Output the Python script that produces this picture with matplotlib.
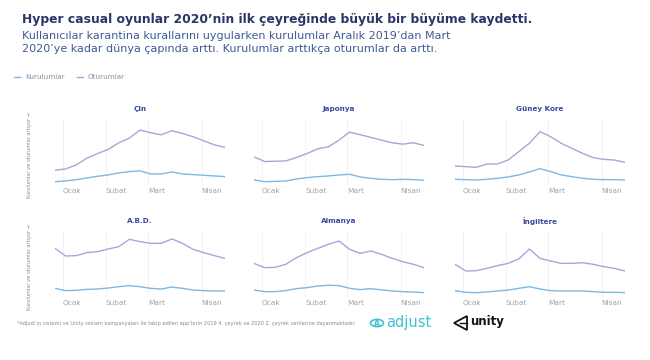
import matplotlib
matplotlib.use("Agg")
import matplotlib.pyplot as plt
from matplotlib.lines import Line2D
from matplotlib.patches import Circle, Polygon

# ---- data (relative index, 0 = bottom of panel, 100 = top) ----
weeks = list(range(17))
month_ticks = [0.75, 4.8, 8.75, 13.8]
month_labels = ["Ocak", "Subat", "Mart", "Nisan"]

countries = ["Çin", "Japonya", "Güney Kore", "A.B.D.", "Almanya", "İngiltere"]

cin_kur = [5, 6, 8, 10.5, 13, 15, 18, 20, 21, 16.5, 16.5, 19.5, 16.5, 15.5, 14.5, 13.5, 12.5]
cin_otr = [22, 24, 30, 40, 47, 53, 63, 70, 82, 78, 75, 81, 77, 72, 66, 60, 56]

jap_kur = [7.5, 5, 5.5, 6, 9, 11, 12.5, 13.5, 15, 16, 12, 10, 8.5, 8, 8.5, 8, 7]
jap_otr = [42, 35, 35.5, 36, 41, 47, 54, 57, 67, 79, 75, 71, 67, 63, 61, 63, 59]

kor_kur = [8.5, 8, 7.5, 8.5, 10, 12, 15, 19.5, 24.5, 20, 15, 12.5, 10, 8.5, 8, 8, 7.5]
kor_otr = [28.4, 27.4, 26.4, 31.3, 31.3, 37.3, 49.8, 62.2, 79.6, 72.1, 62.2, 54.7, 47.3, 40.8, 38.3, 37.3, 33.8]

abd_kur = [12.9, 9.5, 10, 11.4, 11.9, 13.4, 15.4, 16.9, 15.4, 12.9, 11.9, 14.9, 12.9, 10.4, 9.5, 9, 9]
abd_otr = [72.6, 61.2, 61.7, 66.2, 67.7, 71.6, 75.1, 86.1, 82.6, 80.1, 80.1, 86.6, 80.1, 71.1, 66.2, 61.7, 57.7]

alm_kur = [10.4, 8, 8, 9.5, 12.5, 14, 16.5, 17.5, 17, 13, 11, 12.5, 10.5, 9, 8, 7.5, 6.5]
alm_otr = [50.2, 43.8, 44.3, 48.8, 58.7, 66.2, 72.6, 78.6, 83.6, 71.1, 65.2, 68.7, 63.7, 57.7, 52.7, 48.8, 43.8]

ing_kur = [9.5, 7, 6.5, 7.5, 9, 10.4, 12.9, 15.4, 11.9, 9.5, 9, 9, 9, 8, 7, 7, 6.5]
ing_otr = [48.8, 38.8, 39.3, 42.8, 46.8, 50.2, 56.7, 71.6, 57.7, 53.7, 50.2, 50.2, 51.2, 48.8, 45.3, 42.8, 38.8]

installs = [cin_kur, jap_kur, kor_kur, abd_kur, alm_kur, ing_kur]
sessions = [cin_otr, jap_otr, kor_otr, abd_otr, alm_otr, ing_otr]

BLUE = "#7fb8e2"
PURPLE = "#b3a0db"
NAVY = "#2c3566"
SUB = "#3f5b94"
PTITLE = "#3a4a9c"
GRAY = "#a3a3a3"

W, H = 650, 360
fig = plt.figure(figsize=(6.5, 3.6), dpi=100)
fig.patch.set_facecolor("white")

def fx(px):
    return px / W

def fy(py):
    return 1 - py / H

# Titles
fig.text(fx(22), fy(19), "Hyper casual oyunlar 2020\u2019nin ilk çeyreğinde büyük bir büyüme kaydetti.",
         fontsize=8.95, fontweight="bold", color=NAVY, ha="left", va="center")
fig.text(fx(22), fy(36), "Kullanıcılar karantina kurallarını uygularken kurulumlar Aralık 2019\u2019dan Mart",
         fontsize=8.0, color=SUB, ha="left", va="center")
fig.text(fx(22), fy(48.5), "2020\u2019ye kadar dünya çapında arttı. Kurulumlar arttıkça oturumlar da arttı.",
         fontsize=8.0, color=SUB, ha="left", va="center")

# Legend
fig.add_artist(Line2D([fx(14), fx(20)], [fy(77), fy(77)], color=BLUE, lw=1.0))
fig.text(fx(25), fy(77), "Kurulumlar", fontsize=5.2, color="#8a8fa0", ha="left", va="center")
fig.add_artist(Line2D([fx(77), fx(83)], [fy(77), fy(77)], color=PURPLE, lw=1.0))
fig.text(fx(88), fy(77), "Oturumlar", fontsize=5.2, color="#8a8fa0", ha="left", va="center")

cols = [55, 254, 455]
rows = [(118, 185), (230, 297)]
pw = 170

for i, name in enumerate(countries):
    r, c = divmod(i, 3)
    top, bot = rows[r]
    ax = fig.add_axes([fx(cols[c]), fy(bot), pw / W, (bot - top) / H])
    ax.plot(weeks, sessions[i], color=PURPLE, lw=1.0, solid_capstyle="round")
    ax.plot(weeks, installs[i], color=BLUE, lw=1.0, solid_capstyle="round")
    ax.set_xlim(0, 16)
    ax.set_ylim(0, 100)
    ax.set_xticks(month_ticks)
    ax.set_xticklabels(month_labels, ha="left")
    ax.tick_params(axis="x", length=0, pad=2.5, labelsize=5.3, labelcolor=GRAY)
    ax.set_yticks([])
    ax.grid(axis="x", color="#f0f0f3", lw=0.6)
    for s in ax.spines.values():
        s.set_visible(False)
    ax.set_facecolor("none")
    ax.text(0.5, 1.13, name, transform=ax.transAxes, ha="center", va="center",
            fontsize=5.2, fontweight="bold", color=PTITLE)
    if c == 0:
        fig.text(fx(30), fy((top + bot) / 2 + 4), "Kurulumlar ve oturumlar artıyor \u2192",
                 rotation=90, fontsize=3.6, color="#8a8a8a", ha="center", va="center")

# Footnote
fig.text(fx(17), fy(323),
         "*Adjust\u2019ın sistemi ve Unity reklam kampanyaları ile takip edilen app\u2019lerin 2019 4. çeyrek ve 2020 2. çeyrek verilerine dayanmaktadır.",
         fontsize=3.65, color="#8a8a8a", ha="left", va="center")

# Logos
TEAL = "#3fc1cf"
fig.add_artist(Circle((fx(377), fy(323)), 6.5 / W, transform=fig.transFigure,
                      fill=False, ec=TEAL, lw=1.2))
fig.text(fx(377), fy(323), "A", fontsize=5.5, fontweight="bold", color=TEAL, ha="center", va="center")
fig.text(fx(386), fy(322.5), "adjust", fontsize=10.5, color=TEAL, ha="left", va="center")

cx, cy = 461, 323
tri = [(fx(cx - 7), fy(cy)), (fx(cx + 6), fy(cy - 7)), (fx(cx + 6), fy(cy + 7))]
fig.add_artist(Polygon(tri, closed=True, transform=fig.transFigure, fill=False, ec="#111111", lw=1.3))
fig.add_artist(Line2D([fx(cx - 1), fx(cx + 6)], [fy(cy), fy(cy)], color="#111111", lw=1.0))
fig.text(fx(470), fy(322), "unity", fontsize=8.5, fontweight="bold", color="#111111", ha="left", va="center")

fig.savefig("out.png", dpi=100, facecolor="white")
